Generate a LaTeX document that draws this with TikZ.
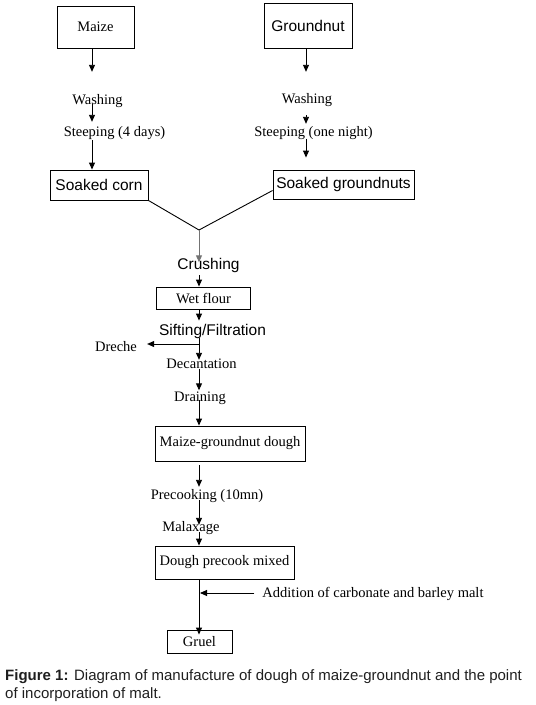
\documentclass[tikz,border=0pt]{standalone}
\usepackage{fontspec}
\setmainfont{Liberation Serif}
\setsansfont{Liberation Sans}
\usetikzlibrary{arrows.meta,positioning}

\begin{document}
\begin{tikzpicture}[x=1pt, y=-1pt,
    box/.style={draw, line width=0.9pt, inner sep=0pt,
                font=\fontsize{14.5}{16}\selectfont},
    sbox/.style={box, font=\sffamily\fontsize{15.5}{17}\selectfont},
    lbl/.style={inner sep=0pt, text height=11pt, text depth=2pt,
                font=\fontsize{14.5}{16}\selectfont},
    slbl/.style={lbl, font=\sffamily\fontsize{15.5}{17}\selectfont},
    arr/.style={-{Triangle[length=7pt,width=6pt]}, line width=0.9pt},
    ln/.style={line width=0.9pt}
  ]
    \useasboundingbox (0,0) rectangle (536,705);

    % column guides
    \coordinate (lc) at (92,0);
    \coordinate (rc) at (306,0);
    \coordinate (jn) at (199,230);

    % maize branch
    \node[box, minimum width=77, minimum height=42] (maize) at (95.5,27) {Maize};
    \node[lbl] (mwash)  at (97.5,100) {Washing};
    \node[lbl] (msteep) at (114.5,132) {Steeping (4 days)};
    \node[sbox, minimum width=98, minimum height=30] (corn) at (99,185) {Soaked corn};

    % groundnut branch
    \node[sbox, minimum width=88, minimum height=45] (gnut) at (308,25.5) {Groundnut};
    \node[lbl] (gwash)  at (307,99) {Washing};
    \node[lbl] (gsteep) at (313.5,132) {Steeping (one night)};
    \node[sbox, minimum width=141, minimum height=29] (gsoak) at (343.5,184.5) {Soaked groundnuts};

    \draw[arr, shorten >=21.5pt] (maize.south -| lc) -- (mwash.north -| lc);
    \draw[arr, shorten <=4pt, shorten >=3.5pt] (mwash.center -| lc) -- (msteep.north -| lc);
    \draw[arr, shorten <=1.5pt] (msteep.south -| lc) -- (corn.north -| lc);
    \draw[arr, shorten >=20.5pt] (gnut.south -| rc) -- (gwash.north -| rc);
    \draw[arr, shorten <=9.5pt, shorten >=1.5pt] (gwash.south -| rc) -- (gsteep.north -| rc);
    \draw[arr, shorten >=12pt] (gsteep.south -| rc) -- (gsoak.north -| rc);

    % merging
    \draw[ln] (corn.south east) -- (jn);
    \draw[ln] ([yshift=-6pt]gsoak.west) -- (jn);

    % main column
    \node[slbl] (crush)   at (208.5,265) {Crushing};
    \node[box, minimum width=94, minimum height=22] (wet) at (203.5,298) {Wet flour};
    \node[slbl] (sift)    at (212.5,331) {Sifting/Filtration};
    \node[lbl]  (dreche)  at (116,347) {Dreche};
    \node[lbl]  (decant)  at (201.5,364) {Decantation};
    \node[lbl]  (drain)   at (200,397) {Draining};
    \node[box, minimum width=150, minimum height=35] (mgd) at (230,443.5) {Maize-groundnut dough};
    \node[lbl]  (precook) at (207,495) {Precooking (10mn)};
    \node[lbl]  (malax)   at (191,527) {Malaxage};
    \node[box, minimum width=139, minimum height=33] (dpm) at (224.5,562.5) {Dough precook mixed};
    \node[lbl]  (addit)   at (373,593) {Addition of carbonate and barley malt};
    \node[box, minimum width=65, minimum height=23] (gruel) at (199.5,641.5) {Gruel};

    \draw[arr, black!55, shorten >=-4pt] (jn) -- (crush.north -| jn);
    \foreach \a/\b/\s/\e in {crush/wet/3.75pt/0pt, wet/sift/0pt/3.75pt,
        sift/decant/0pt/-2.5pt, decant/drain/-2pt/0pt, drain/mgd/-3.5pt/0pt,
        mgd/precook/4pt/1.5pt, precook/malax/-1.5pt/-4.5pt,
        malax/dpm/-1.5pt/0pt, dpm/gruel/0pt/-5pt}
      \draw[arr, shorten <=\s, shorten >=\e] (\a.south -| jn) -- (\b.north -| jn);

    \coordinate (brk) at (199,344);
    \draw[arr, shorten >=10pt] (brk) -- (brk -| dreche.east);
    \draw[arr, shorten <=8pt, shorten >=1pt] (addit.west) -- (addit.west -| jn);

    % caption
    \node[anchor=north west, inner sep=0pt, align=left, text=black!88,
          font=\sffamily\fontsize{15}{18}\selectfont] (cap) at (5,669)
      {\textbf{Figure 1:} Diagram of manufacture of dough of maize-groundnut and the point\\
       of incorporation of malt.};
\end{tikzpicture}
\end{document}
